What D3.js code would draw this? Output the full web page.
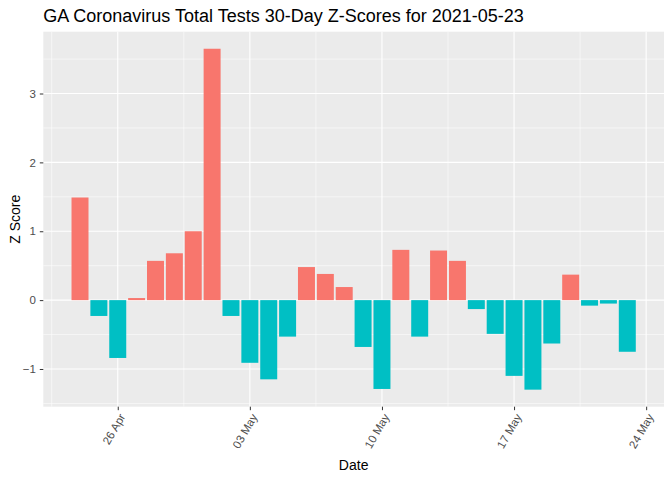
<!DOCTYPE html>
<html>
<head>
<meta charset="utf-8">
<script src="https://cdn.jsdelivr.net/npm/d3@7"></script>
<style>
  body { margin: 0; background: #fff; }
  text { font-family: Arial, "Liberation Sans", sans-serif; }
</style>
</head>
<body>
<div id="chart"></div>
<script>
var vWidth = 672;
var vHeight = 480;

// data
var dates = [
    "2021-04-24", "2021-04-25", "2021-04-26", "2021-04-27", "2021-04-28",
    "2021-04-29", "2021-04-30", "2021-05-01", "2021-05-02", "2021-05-03",
    "2021-05-04", "2021-05-05", "2021-05-06", "2021-05-07", "2021-05-08",
    "2021-05-09", "2021-05-10", "2021-05-11", "2021-05-12", "2021-05-13",
    "2021-05-14", "2021-05-15", "2021-05-16", "2021-05-17", "2021-05-18",
    "2021-05-19", "2021-05-20", "2021-05-21", "2021-05-22", "2021-05-23"
];
var zScores = [
    1.49, -0.23, -0.84, 0.03, 0.57,
    0.68, 1.00, 3.65, -0.23, -0.91,
    -1.15, -0.53, 0.48, 0.38, 0.19,
    -0.68, -1.29, 0.73, -0.53, 0.72,
    0.57, -0.13, -0.49, -1.10, -1.30,
    -0.63, 0.37, -0.08, -0.05, -0.75
];
var xTickDates = ["2021-04-26", "2021-05-03", "2021-05-10", "2021-05-17", "2021-05-24"];
var yTicks = [-1, 0, 1, 2, 3];

var parseDate = d3.timeParse("%Y-%m-%d");
var fmt = d3.timeFormat("%d %b");
var dayMs = 864e5;

var rows = dates.map(function (d, i) {
    return { date: parseDate(d), z: zScores[i] };
});

var margin = { top: 31.7, right: 8, bottom: 73.3, left: 43.3 };
var pw = vWidth - margin.left - margin.right;
var ph = vHeight - margin.top - margin.bottom;

var svg = d3.select("#chart").append("svg")
    .attr("width", vWidth)
    .attr("height", vHeight);

// ggplot style 5% expansion
var first = +rows[0].date - 0.45 * dayMs;
var last = +rows[rows.length - 1].date + 0.45 * dayMs;
var xpad = (last - first) * 0.05;
var x = d3.scaleTime()
    .domain([new Date(first - xpad), new Date(last + xpad)])
    .range([0, pw]);

var zmin = d3.min(zScores), zmax = d3.max(zScores);
var ypad = (zmax - zmin) * 0.05;
var y = d3.scaleLinear()
    .domain([zmin - ypad, zmax + ypad])
    .range([ph, 0]);

var g = svg.append("g")
    .attr("transform", "translate(" + margin.left + "," + margin.top + ")");

g.append("rect")
    .attr("width", pw)
    .attr("height", ph)
    .attr("fill", "#EBEBEB");

// minor grid
var yMinor = [-1.5, -0.5, 0.5, 1.5, 2.5, 3.5];
g.selectAll(".yminor").data(yMinor).enter().append("line")
    .attr("x1", 0).attr("x2", pw)
    .attr("y1", d => y(d)).attr("y2", d => y(d))
    .attr("stroke", "#fff").attr("stroke-width", 0.55);

var xTicks = xTickDates.map(parseDate);
var xMinor = [new Date(+xTicks[0] - 3.5 * dayMs)];
for (var i = 0; i < xTicks.length - 1; i++) {
    xMinor.push(new Date((+xTicks[i] + +xTicks[i + 1]) / 2));
}
g.selectAll(".xminor").data(xMinor).enter().append("line")
    .attr("y1", 0).attr("y2", ph)
    .attr("x1", d => x(d)).attr("x2", d => x(d))
    .attr("stroke", "#fff").attr("stroke-width", 0.55);

// major grid
g.selectAll(".ymajor").data(yTicks).enter().append("line")
    .attr("x1", 0).attr("x2", pw)
    .attr("y1", d => y(d)).attr("y2", d => y(d))
    .attr("stroke", "#fff").attr("stroke-width", 1.1);

g.selectAll(".xmajor").data(xTicks).enter().append("line")
    .attr("y1", 0).attr("y2", ph)
    .attr("x1", d => x(d)).attr("x2", d => x(d))
    .attr("stroke", "#fff").attr("stroke-width", 1.1);

// bars
var barW = x(new Date(0.9 * dayMs)) - x(new Date(0));
g.selectAll(".bar").data(rows).enter().append("rect")
    .attr("x", d => x(d.date) - barW / 2)
    .attr("width", barW)
    .attr("y", d => y(Math.max(0, d.z)))
    .attr("height", d => Math.abs(y(d.z) - y(0)))
    .attr("fill", d => d.z > 0 ? "#F8766D" : "#00BFC4");

// y axis
var yAxis = g.append("g")
    .call(d3.axisLeft(y).tickValues(yTicks).tickSize(3.5).tickPadding(4).tickFormat(d3.format("d")));
yAxis.select(".domain").remove();
yAxis.selectAll("line").attr("stroke", "#333333");
yAxis.selectAll("text").attr("fill", "#4D4D4D").attr("font-size", "11.5px")
    .style("font-family", "Arial, 'Liberation Sans', sans-serif");

// x axis
var xAxis = g.append("g")
    .attr("transform", "translate(0," + ph + ")")
    .call(d3.axisBottom(x).tickValues(xTicks).tickSize(3.5).tickFormat(fmt));
xAxis.select(".domain").remove();
xAxis.selectAll("line").attr("stroke", "#333333");
xAxis.selectAll("text")
    .attr("fill", "#4D4D4D")
    .attr("font-size", "11.5px")
    .style("font-family", "Arial, 'Liberation Sans', sans-serif")
    .attr("text-anchor", "end")
    .attr("dy", "0.35em")
    .attr("y", 0)
    .attr("transform", "translate(4,8) rotate(-60)");

// titles
svg.append("text")
    .attr("x", margin.left)
    .attr("y", 21.7)
    .attr("font-size", "18px")
    .attr("fill", "#000")
    .text("GA Coronavirus Total Tests 30-Day Z-Scores for 2021-05-23");

svg.append("text")
    .attr("x", margin.left + pw / 2)
    .attr("y", 470)
    .attr("text-anchor", "middle")
    .attr("font-size", "14px")
    .text("Date");

svg.append("text")
    .attr("transform", "translate(20," + (margin.top + ph / 2) + ") rotate(-90)")
    .attr("text-anchor", "middle")
    .attr("font-size", "14px")
    .text("Z Score");
</script>
</body>
</html>
